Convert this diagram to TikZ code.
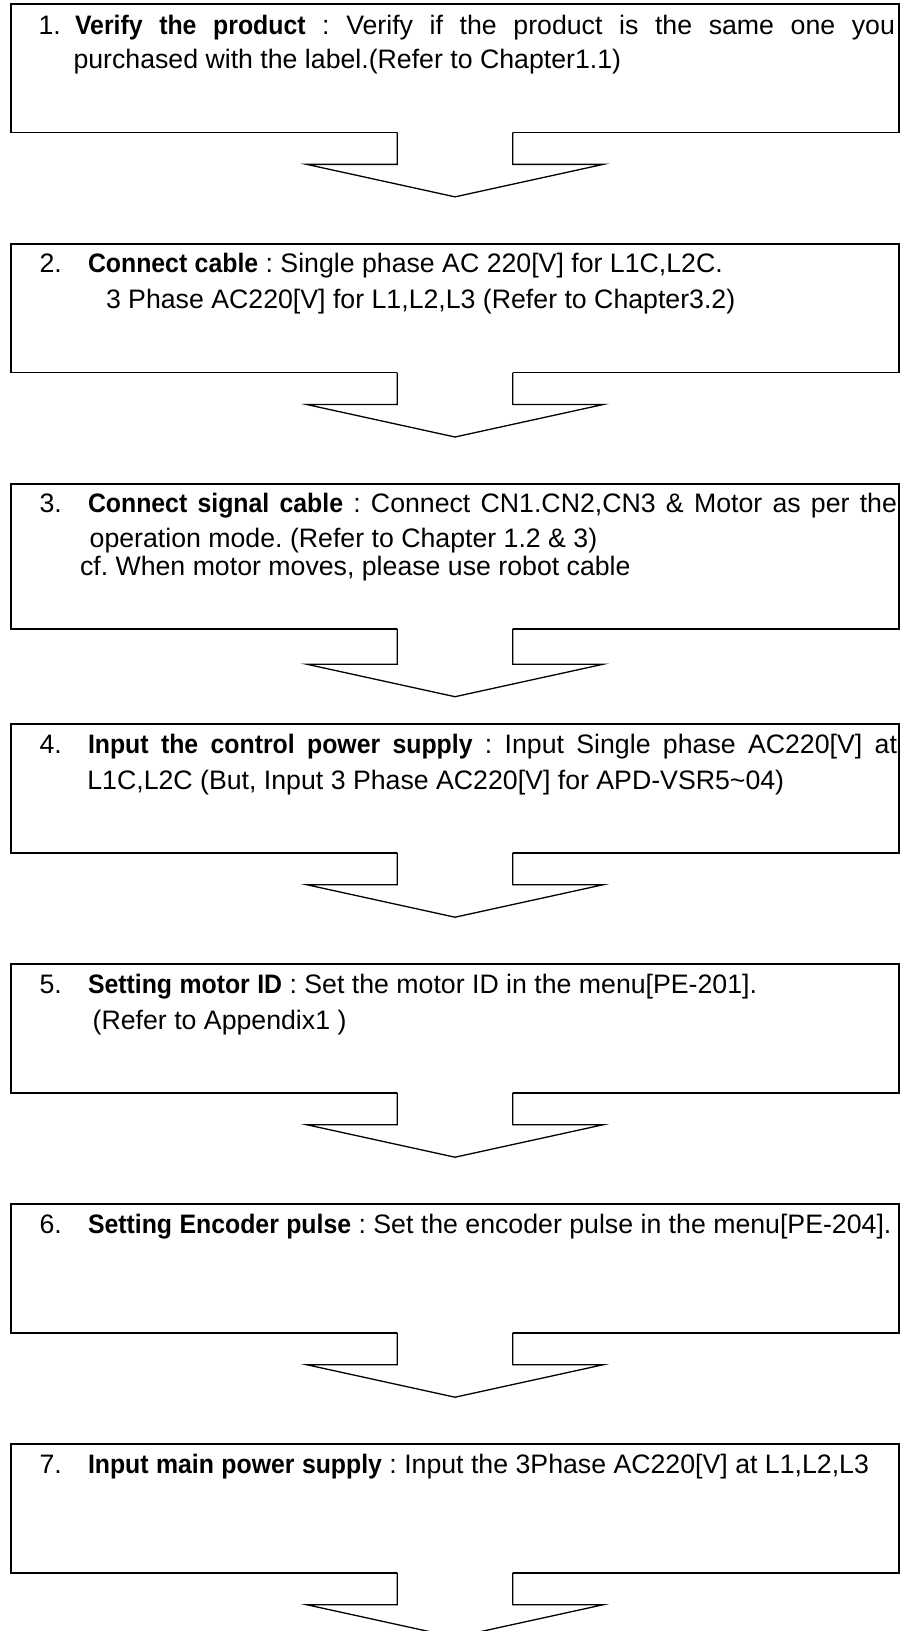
\documentclass[tikz,border=0pt]{standalone}
\usepackage{fontspec}
\setmainfont{Liberation Sans}
\usetikzlibrary{calc}
\newcommand\bt[1]{\scalebox{0.93}[1]{\textbf{#1}}}
\newcommand\flowstep[2]{%
  \draw[boxline] ($(#1.south)+(-57.7,0)$) -| (#1.north west) -| (#1.south east) -- ($(#1.south)+(57.7,0)$);
  \draw[arrowline] ($(#1.south)+(-57.7,0)$) -- ++(0,#2) -- ++(-90.6,0) -- ++(148.3,32.5) -- ++(148.3,-32.5) -- ++(-90.6,0) -- ++(0,-#2);
}
\begin{document}
\begin{tikzpicture}[x=1pt,y=-1pt,
  box/.style={rectangle, inner sep=0pt, outer sep=0pt, minimum width=888.3pt, minimum height=128.4pt},
  txt/.style={anchor=base west, inner sep=0pt, outer sep=0pt, font=\fontsize{26.7}{36}\selectfont\frenchspacing},
  boxline/.style={line width=1.7pt, line join=miter},
  arrowline/.style={line width=1.3pt, line join=miter}]
\useasboundingbox (0,0) rectangle (903,1631);
\fill[white] (0,0) rectangle (903,1631);

% boxes
\node[box] (b1) at (455,68.15) {};
\node[box] (b2) at (455,308.3) {};
\node[box, minimum height=144.4pt] (b3) at (455,556.5) {};
\node[box] (b4) at (455,788.5) {};
\node[box] (b5) at (455,1028.5) {};
\node[box] (b6) at (455,1268.5) {};
\node[box] (b7) at (455,1508.5) {};

\flowstep{b1}{32}
\flowstep{b2}{32}
\flowstep{b3}{35.5}
\flowstep{b4}{32}
\flowstep{b5}{32}
\flowstep{b6}{32}
\flowstep{b7}{32}

% texts
\node[txt] (n1) at (38.6,34) {1.};
\node[txt] (t1a) at (75,34) {\makebox[820pt][s]{\bt{Verify} \bt{the} \bt{product} : Verify if the product is the same one you}};
\node[txt] (t1b) at (73.5,68.5) {purchased with the label.(Refer to Chapter1.1)};

\node[txt] (n2) at (39.6,272.7) {2.};
\node[txt] (t2a) at (88,272.7) {\bt{Connect} \bt{cable} : Single phase AC 220[V] for L1C,L2C.};
\node[txt] (t2b) at (106,308) {3 Phase AC220[V] for L1,L2,L3 (Refer to Chapter3.2)};

\node[txt] (n3) at (39.6,512.7) {3.};
\node[txt] (t3a) at (88,512.7) {\makebox[809pt][s]{\bt{Connect} \bt{signal} \bt{cable} : Connect CN1.CN2,CN3 \& Motor as per the}};
\node[txt] (t3b) at (89.7,547) {operation mode. (Refer to Chapter 1.2 \& 3)};
\node[txt] (t3c) at (80,575.5) {cf. When motor moves, please use robot cable};

\node[txt] (n4) at (39.6,753) {4.};
\node[txt] (t4a) at (88,753) {\makebox[809pt][s]{\bt{Input} \bt{the} \bt{control} \bt{power} \bt{supply} : Input Single phase AC220[V] at}};
\node[txt] (t4b) at (87.4,789.3) {L1C,L2C (But, Input 3 Phase AC220[V] for APD-VSR5\textasciitilde 04)};

\node[txt] (n5) at (39.6,993.3) {5.};
\node[txt] (t5a) at (88,993.3) {\bt{Setting} \bt{motor} \bt{ID} : Set the motor ID in the menu[PE-201].};
\node[txt] (t5b) at (92.7,1029.3) {(Refer to Appendix1 )};

\node[txt] (n6) at (39.6,1233.3) {6.};
\node[txt] (t6a) at (88,1233.3) {\bt{Setting} \bt{Encoder} \bt{pulse} : Set the encoder pulse in the menu[PE-204].};

\node[txt] (n7) at (39.6,1473.3) {7.};
\node[txt] (t7a) at (88,1473.3) {\bt{Input} \bt{main} \bt{power} \bt{supply} : Input the 3Phase AC220[V] at L1,L2,L3};
\end{tikzpicture}
\end{document}
